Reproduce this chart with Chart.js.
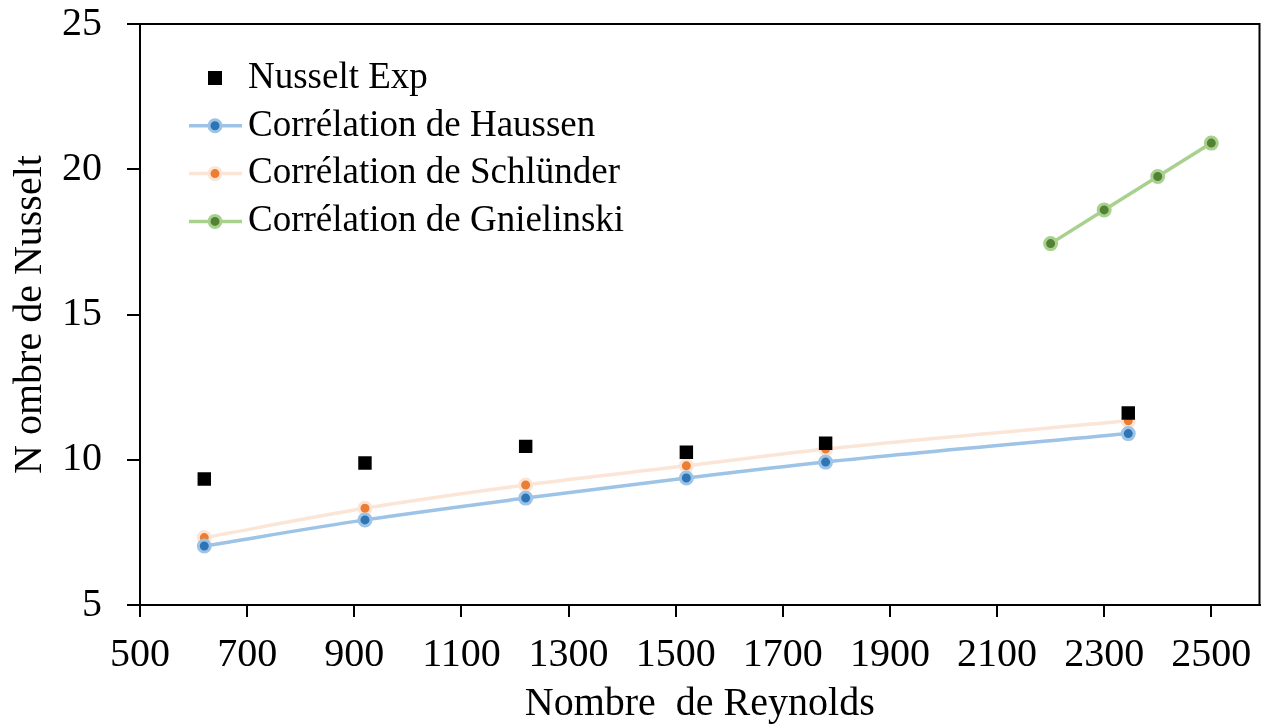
<!DOCTYPE html>
<html>
<head>
<meta charset="utf-8">
<script src="https://cdn.jsdelivr.net/npm/chart.js@4"></script>
<style>
  html, body { margin: 0; padding: 0; background: #fff; }
  #wrap { width: 1269px; height: 728px; }
</style>
</head>
<body>
<div id="wrap"><canvas id="chart" width="1269" height="728"></canvas></div>
<script>
// Données
const reynolds = [620, 920, 1220, 1520, 1780, 2345];
const nusseltExp = [9.34, 9.89, 10.46, 10.26, 10.57, 11.61];
const haussen = [7.03, 7.93, 8.68, 9.37, 9.92, 10.9];
const schlunder = [7.32, 8.33, 9.13, 9.79, 10.37, 11.34];
const reynoldsGni = [2200, 2300, 2400, 2500];
const gnielinski = [17.44, 18.6, 19.75, 20.9];
const xTicks = [500, 700, 900, 1100, 1300, 1500, 1700, 1900, 2100, 2300, 2500];
const yTicks = [5, 10, 15, 20, 25];

const FONT = "'Liberation Serif', 'Times New Roman', serif";

const toPoints = (xs, ys) => xs.map((x, i) => ({ x: x, y: ys[i] }));

// Cadre noir autour de la zone de tracé
const frame = {
    id: 'frame',
    afterDraw(chart) {
        const a = chart.chartArea, ctx = chart.ctx;
        ctx.save();
        ctx.strokeStyle = '#000';
        ctx.lineWidth = 2;
        ctx.strokeRect(a.left, a.top, a.right - a.left, a.bottom - a.top);
        ctx.restore();
    }
};

// Légende dessinée dans la zone de tracé (en haut à gauche)
const innerLegend = {
    id: 'innerLegend',
    afterDraw(chart) {
        const ctx = chart.ctx;
        const x0 = 189, x1 = 242, mx = 215, tx = 248;
        const y0 = 78, step = 47.8;
        ctx.save();
        ctx.font = '37px ' + FONT;
        ctx.textBaseline = 'middle';
        chart.data.datasets.forEach((ds, i) => {
            const y = y0 + i * step;
            if (ds.showLine) {
                ctx.strokeStyle = ds.borderColor;
                ctx.lineWidth = 3.5;
                ctx.beginPath();
                ctx.moveTo(x0, y);
                ctx.lineTo(x1, y);
                ctx.stroke();
                ctx.beginPath();
                ctx.arc(mx, y, 6, 0, Math.PI * 2);
                ctx.fillStyle = ds.pointBackgroundColor;
                ctx.fill();
                ctx.lineWidth = 3;
                ctx.strokeStyle = ds.pointBorderColor;
                ctx.stroke();
            } else {
                ctx.fillStyle = '#000';
                ctx.fillRect(mx - 7, y - 7, 14, 14);
            }
            ctx.fillStyle = '#000';
            ctx.fillText(ds.label, tx, y);
        });
        ctx.restore();
    }
};

new Chart(document.getElementById('chart'), {
    type: 'scatter',
    data: {
        datasets: [
            {
                label: 'Nusselt Exp',
                data: toPoints(reynolds, nusseltExp),
                showLine: false,
                pointStyle: 'rect',
                pointRadius: 9.5,
                backgroundColor: '#000',
                borderColor: '#000',
                pointBackgroundColor: '#000',
                pointBorderColor: '#000',
                pointBorderWidth: 0
            },
            {
                label: 'Corrélation de Haussen',
                data: toPoints(reynolds, haussen),
                showLine: true,
                borderColor: '#9DC3E6',
                borderWidth: 3.5,
                cubicInterpolationMode: 'monotone',
                pointRadius: 6,
                pointBorderWidth: 3,
                pointBackgroundColor: '#2E75B6',
                pointBorderColor: '#9DC3E6'
            },
            {
                label: 'Corrélation de Schlünder',
                data: toPoints(reynolds, schlunder),
                showLine: true,
                borderColor: '#FBE5D6',
                borderWidth: 3.5,
                cubicInterpolationMode: 'monotone',
                pointRadius: 6,
                pointBorderWidth: 3,
                pointBackgroundColor: '#ED7D31',
                pointBorderColor: '#FBE5D6'
            },
            {
                label: 'Corrélation de Gnielinski',
                data: toPoints(reynoldsGni, gnielinski),
                showLine: true,
                borderColor: '#A9D18E',
                borderWidth: 3.5,
                tension: 0,
                pointRadius: 6,
                pointBorderWidth: 3,
                pointBackgroundColor: '#548235',
                pointBorderColor: '#A9D18E'
            }
        ]
    },
    options: {
        responsive: false,
        animation: false,
        layout: { padding: { top: 24, right: 9, left: 0, bottom: 0 } },
        plugins: {
            legend: { display: false },
            tooltip: { enabled: false }
        },
        scales: {
            x: {
                type: 'linear',
                min: 500,
                max: 2590,
                afterBuildTicks: s => { s.ticks = xTicks.map(v => ({ value: v })); },
                afterFit: s => { s.height = 123; s.paddingLeft = 0; s.paddingRight = 0; },
                grid: { drawOnChartArea: false, drawTicks: true, tickLength: 12, color: '#000', lineWidth: 2 },
                border: { color: '#000', width: 2 },
                ticks: { color: '#000', font: { family: FONT, size: 40 }, padding: 14, maxRotation: 0, autoSkip: false, callback: v => String(v) },
                title: { display: true, text: 'Nombre  de Reynolds', color: '#000', font: { family: FONT, size: 40 }, padding: { top: 0, bottom: 0 } }
            },
            y: {
                min: 5,
                max: 25,
                afterBuildTicks: s => { s.ticks = yTicks.map(v => ({ value: v })); },
                afterFit: s => { s.width = 140; s.paddingTop = 0; s.paddingBottom = 0; },
                grid: { drawOnChartArea: false, drawTicks: true, tickLength: 13, color: '#000', lineWidth: 2 },
                border: { color: '#000', width: 2 },
                ticks: { color: '#000', font: { family: FONT, size: 40 }, padding: 25, callback: v => String(v) },
                title: { display: true, text: 'N ombre de Nusselt', color: '#000', font: { family: FONT, size: 40 }, padding: { top: 6, bottom: 0 } }
            }
        }
    },
    plugins: [frame, innerLegend]
});
</script>
</body>
</html>
